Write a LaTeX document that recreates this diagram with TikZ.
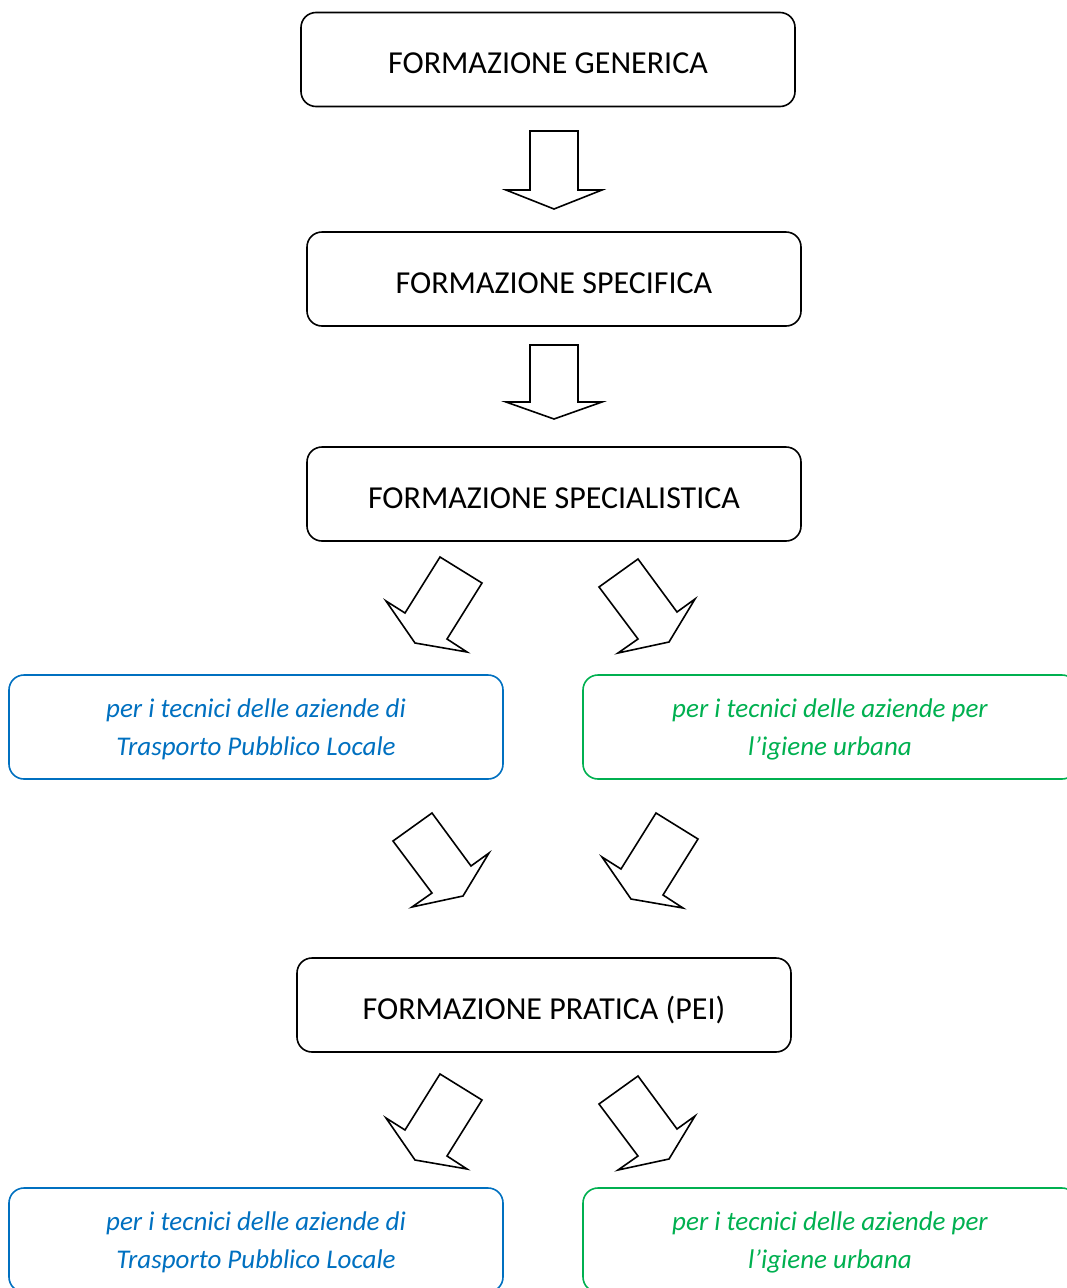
\documentclass[tikz,border=0pt]{standalone}
\usepackage{fontspec}
\setmainfont{Carlito}
\definecolor{tplblue}{HTML}{0070C0}
\definecolor{igugreen}{HTML}{00B050}

\begin{document}
\begin{tikzpicture}[x=1pt,y=-1pt,
  box/.style={draw, rounded corners=15pt, line width=1.6pt,
              minimum width=494pt, minimum height=94pt,
              text height=28pt, text depth=0pt,
              font=\fontsize{32}{38}\selectfont},
  sidebox/.style={draw, rounded corners=15pt, line width=1.6pt,
                  minimum width=494pt, minimum height=104pt, align=center,
                  text depth=0pt,
                  font=\fontsize{27}{38}\selectfont\itshape},
  blockarrow/.style={draw, line width=1.6pt, fill=white, line join=miter}]
\def\sh{517} % shift of the bottom pair of arrows
\useasboundingbox (0,0) rectangle (1067,1288);
\clip (0,0) rectangle (1067,1288);

% the black boxes
\node[box] (gen)   at (548,59.5) {FORMAZIONE GENERICA};
\node[box] (spec)  at (554,279)  {FORMAZIONE SPECIFICA};
\node[box] (speci) at (554,494)  {FORMAZIONE SPECIALISTICA};
\node[box] (pei)   at (544,1005) {FORMAZIONE PRATICA (PEI)};

% the coloured boxes
\node[sidebox, draw=tplblue, text=tplblue] (tpl1) at (256,727)
  {per i tecnici delle aziende di\\Trasporto Pubblico Locale};
\node[sidebox, draw=igugreen, text=igugreen] (igu1) at (830,727)
  {per i tecnici delle aziende per\\l’igiene urbana};
\node[sidebox, draw=tplblue, text=tplblue] (tpl2) at (256,1240)
  {per i tecnici delle aziende di\\Trasporto Pubblico Locale};
\node[sidebox, draw=igugreen, text=igugreen] (igu2) at (830,1240)
  {per i tecnici delle aziende per\\l’igiene urbana};

% straight arrows
\foreach \top/\neck/\tip in {131/190/209, 345/402/419}
{
\draw[blockarrow] (530,\top) -- (578,\top) -- (578,\neck) -- (602,\neck)
  -- (554,\tip) -- (506,\neck) -- (530,\neck) -- cycle;
}

% arrows pointing down left
\foreach \dx/\dy in {0/0, 216/256, 0/\sh}
{
\draw[blockarrow, shift={(\dx,\dy)}] (440,557) -- (482,583) -- (447,639)
  -- (467,652) -- (415,643) -- (386,601) -- (405,613) -- cycle;
}

% arrows pointing down right
\foreach \dx/\dy in {0/0, -206/254, 0/\sh}
{
\draw[blockarrow, shift={(\dx,\dy)}] (599,587) -- (638,559) -- (677,612)
  -- (695,599) -- (669,642) -- (618,653) -- (638,639) -- cycle;
}
\end{tikzpicture}
\end{document}
